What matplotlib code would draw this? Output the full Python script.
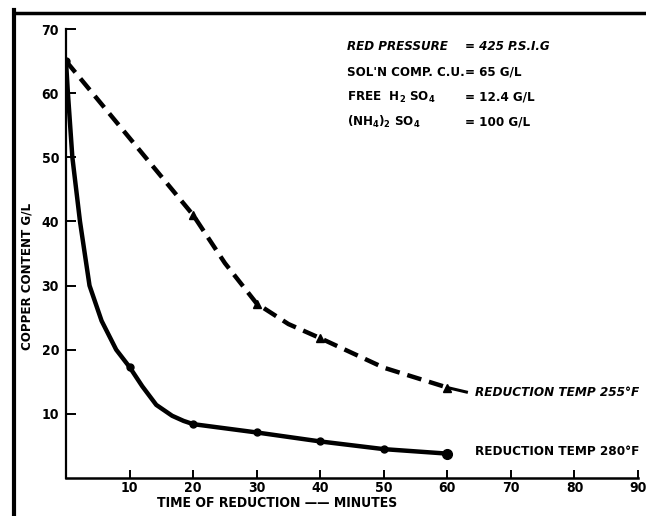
import matplotlib
matplotlib.use("Agg")
import matplotlib.pyplot as plt
from matplotlib.lines import Line2D

plt.rcParams['font.family'] = ['DejaVu Sans']
plt.rcParams['font.weight'] = 'bold'
plt.rcParams['font.stretch'] = 'condensed'
plt.rcParams['mathtext.fontset'] = 'custom'
plt.rcParams['mathtext.rm'] = 'DejaVu Sans:weight=bold:stretch=condensed'
plt.rcParams['mathtext.it'] = 'DejaVu Sans:weight=bold:stretch=condensed'
plt.rcParams['mathtext.bf'] = 'DejaVu Sans:weight=bold:stretch=condensed'

# measured points, 280 F run (solid curve)
t_280 = [0, 10, 20, 30, 40, 50, 60]
cu_280 = [65, 17.3, 8.4, 7.1, 5.7, 4.5, 3.8]
# trace of the hand drawn curve
trace_t_280 = [0, 0.3, 1.0, 2.2, 3.7, 5.6, 7.9, 10, 12, 14.2, 16.7, 18.5, 20, 30, 40, 50, 60]
trace_cu_280 = [65, 60, 50, 40, 30, 24.5, 20, 17.3, 14.3, 11.4, 9.7, 8.9, 8.4, 7.1, 5.7, 4.5, 3.8]

# measured points, 255 F run (dashed curve)
t_255 = [20, 30, 40, 60]
cu_255 = [41, 27.2, 21.8, 14.1]
trace_t_255 = [0, 20, 25, 30, 35, 40, 50, 60]
trace_cu_255 = [65, 41, 33.5, 27.2, 24.0, 21.8, 17.2, 14.1]

x_ticks = [10, 20, 30, 40, 50, 60, 70, 80, 90]
y_ticks = [10, 20, 30, 40, 50, 60, 70]

W, H = 646, 516
fig = plt.figure(figsize=(W / 100, H / 100), dpi=100)
ax = fig.add_axes([66 / W, 1 - 478 / H, (638 - 66) / W, (478 - 29) / H])

ax.plot(trace_t_280, trace_cu_280, color='black', lw=3.2, solid_capstyle='round')
ax.plot(t_280, cu_280, 'o', color='black', ms=5)
ax.plot([60], [3.8], 'o', color='black', ms=7)

ax.plot(trace_t_255, trace_cu_255, color='black', lw=3.2, dashes=(3.3, 1.8))
ax.plot(t_255, cu_255, '^', color='black', ms=6)
ax.plot([60, 63.0], [14.1, 13.4], color='black', lw=2.2)

ax.set_xlim(0, 90)
ax.set_ylim(0, 70)
ax.set_xticks(x_ticks)
ax.set_yticks(y_ticks)
ax.tick_params(direction='in', length=7, width=1.4, labelsize=10, pad=5)
ax.tick_params(axis='x', length=6, pad=2)
for s in ['top', 'right']:
    ax.spines[s].set_visible(False)
ax.spines['left'].set_linewidth(1.6)
ax.spines['bottom'].set_linewidth(1.8)

ax.set_xlabel('TIME OF REDUCTION —— MINUTES', fontsize=10, fontweight='bold')
ax.xaxis.set_label_coords((277 - 66) / 572, -0.04)
ax.set_ylabel('COPPER CONTENT G/L', fontsize=9.5, fontweight='bold')
ax.yaxis.set_label_coords((34 - 66) / 572, 0.45)

# condition notes
lefts = ['RED PRESSURE', "SOL'N COMP. C.U.", r'FREE  H$_2$ SO$_4$', r'(NH$_4$)$_2$ SO$_4$']
rights = ['= 425 P.S.I.G', '= 65 G/L', '= 12.4 G/L', '= 100 G/L']
ys = [47, 72, 97, 122]
for i in range(4):
    st = 'italic' if i == 0 else 'normal'
    fig.text(347 / W, 1 - ys[i] / H, lefts[i], fontsize=9.5, style=st, va='center')
    fig.text(465 / W, 1 - ys[i] / H, rights[i], fontsize=9.5, style=st, va='center')

ax.text(64.3, 13.3, 'REDUCTION TEMP 255°F', fontsize=9.6, style='italic', va='center')
ax.text(64.3, 4.1, 'REDUCTION TEMP 280°F', fontsize=9.6, va='center')

# scan frame edges
fig.add_artist(Line2D([14 / W, 14 / W], [0, 1 - 10 / H], color='black', lw=3))
fig.add_artist(Line2D([14 / W, 1], [1 - 13 / H, 1 - 13 / H], color='black', lw=2.5))

fig.savefig('out.png', dpi=100)
